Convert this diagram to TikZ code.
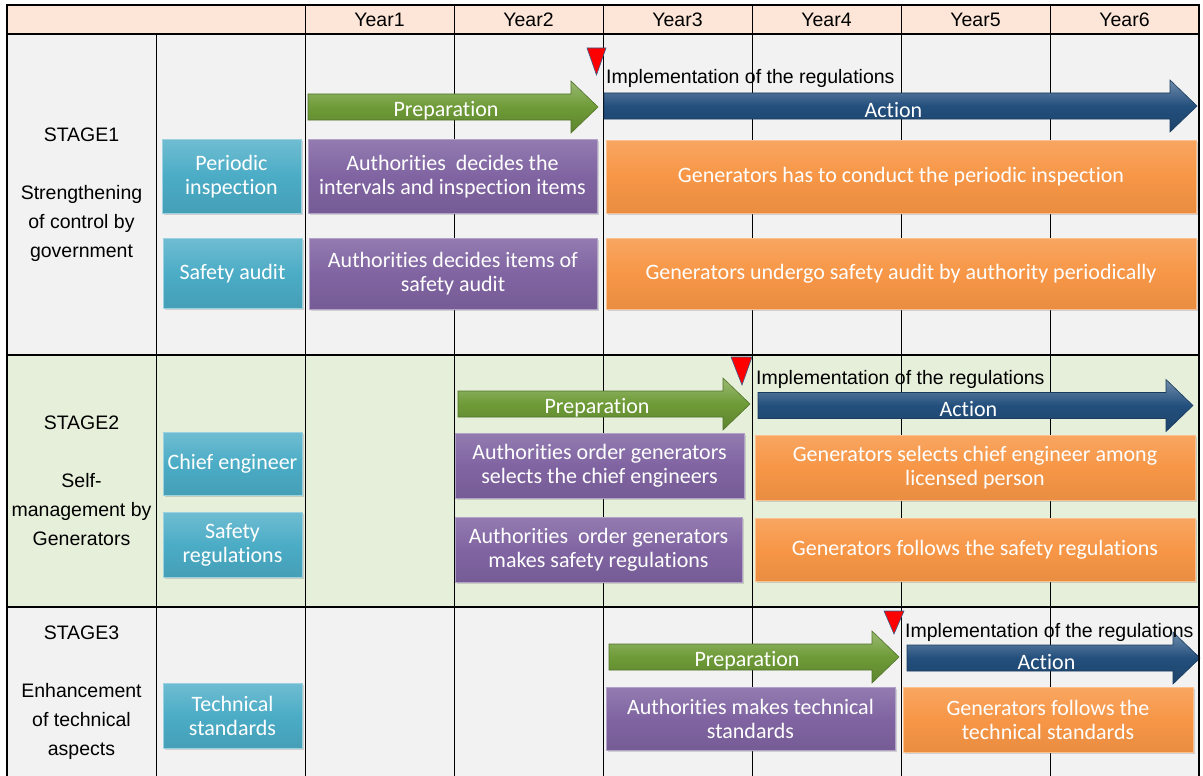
\documentclass[tikz,border=0pt]{standalone}
\usepackage{fontspec}
\setmainfont{Liberation Sans}
\newfontfamily\calfont[Ligatures=NoCommon]{Carlito}
\usetikzlibrary{shadows}

\definecolor{headbg}{HTML}{FDE6D8}
\definecolor{graybg}{HTML}{F2F2F2}
\definecolor{greenbg}{HTML}{E6EFDA}
\definecolor{cyanC}{HTML}{4BACC6}
\definecolor{purpleC}{HTML}{8064A2}
\definecolor{orangeC}{HTML}{F79646}
\definecolor{greenC}{HTML}{6E9B37}
\definecolor{blueC}{HTML}{234F7D}
\definecolor{markC}{HTML}{385D8A}

\tikzset{
  gridline/.style={black, line width=1pt},
  headtext/.style={font=\fontsize{19.5}{23}\selectfont, inner sep=0pt},
  stagetext/.style={font=\fontsize{19.5}{29}\selectfont, align=center, inner sep=0pt},
  noticetext/.style={font=\fontsize{19.5}{23}\selectfont, inner sep=0pt, anchor=west},
  bevelbox/.style={rectangle, inner sep=0pt, outer sep=0pt, align=center, text=white,
    line width=1pt, font=\calfont\fontsize{22}{24}\selectfont,
    drop shadow={shadow xshift=1.5pt, shadow yshift=-1.5pt, opacity=0.3}},
  itembox/.style={bevelbox, top color=cyanC!80!white, bottom color=cyanC!92!black,
    middle color=cyanC, draw=cyanC!55!white},
  authbox/.style={bevelbox, top color=purpleC!85!white, bottom color=purpleC!92!black,
    middle color=purpleC, draw=purpleC!60!white},
  genbox/.style={bevelbox, top color=orangeC!85!white, bottom color=orangeC!94!black,
    middle color=orangeC, draw=orangeC!60!white},
  prepfill/.style={top color=greenC!70!white, bottom color=greenC!85!black, middle color=greenC,
    draw=greenC!75!black, line width=0.6pt},
  actfill/.style={top color=blueC!65!white, bottom color=blueC!85!black, middle color=blueC,
    draw=blueC!75!black, line width=0.6pt},
  arrowtext/.style={text=white, inner sep=0pt, font=\calfont\fontsize{22}{24}\selectfont},
  marker/.style={fill=red, draw=markC, line width=0.6pt}
}

% #1 style, #2 start x, #3 tip x, #4 centre y, #5 name, #6 label
\newcommand{\phasearrow}[6]{%
  \path[#1] (#2,#4-13) -- (#3-27,#4-13) -- (#3-27,#4-26) -- (#3,#4)
    -- (#3-27,#4+26) -- (#3-27,#4+13) -- (#2,#4+13) -- cycle;
  \node[arrowtext] (#5) at ({(#2+#3)/2-7},#4+4) {#6};
}

\begin{document}
\begin{tikzpicture}[x=1pt, y=-1pt]
  \useasboundingbox (0,0) rectangle (1203,776);

  % Fondos de las filas
  \fill[headbg] (7,5) rectangle (1199,34);
  \fill[graybg] (7,34) rectangle (1199,355);
  \fill[greenbg] (7,355) rectangle (1199,607);
  \fill[graybg] (7,607) rectangle (1199,790);

  % Rejilla de columnas y filas
  \draw[gridline] (156,34) -- (156,790);
  \foreach \i in {0,...,5}{
    \draw[gridline] (305+149*\i,5) -- (305+149*\i,790);
  }
  \draw[black, line width=2pt] (7,34) -- (1199,34);
  \draw[gridline, line width=1.4pt] (7,355) -- (1199,355);
  \draw[gridline, line width=1.4pt] (7,607) -- (1199,607);

  % Cabecera de años
  \foreach \i in {1,...,6}{
    \node[headtext] (year\i) at ({305+149*(\i-0.5)},19.5) {Year\i};
  }

  % Etiquetas de las etapas
  \node[stagetext] (stage1) at (81.5,194.5)
    {STAGE1\\[29pt]Strengthening\\of control by\\government};
  \node[stagetext] (stage2) at (81.5,481)
    {STAGE2\\[29pt]Self-\\management by\\Generators};
  \node[stagetext] (stage3) at (81.5,693)
    {STAGE3\\[29pt]Enhancement\\of technical\\aspects};

  % STAGE1
  \node[itembox, minimum width=139, minimum height=74] (periodic) at (231.5,176.5) {Periodic\\inspection};
  \node[itembox, minimum width=139, minimum height=70] (audit) at (232.5,273.5) {Safety audit};
  \node[authbox, minimum width=289, minimum height=74] (auth1) at (452.5,176.5)
    {Authorities\ \ decides the\\intervals and inspection items};
  \node[authbox, minimum width=288, minimum height=71] (auth2) at (453,274)
    {Authorities decides items of\\safety audit};
  \node[genbox, minimum width=590, minimum height=73] (gen1) at (901,176.5)
    {Generators has to conduct the periodic inspection};
  \node[genbox, minimum width=590, minimum height=71] (gen2) at (901,274)
    {Generators undergo safety audit by authority periodically};
  \phasearrow{prepfill}{308}{598}{107}{prep1}{Preparation}
  \phasearrow{actfill}{604}{1197}{106}{act1}{Action}
  \path[marker] (587,48) -- (606,48) -- (596.5,75) -- cycle;
  \node[noticetext] (impl1) at (606,78) {Implementation of the regulations};

  % STAGE2
  \node[itembox, minimum width=139, minimum height=63] (chief) at (232.5,464) {Chief engineer};
  \node[itembox, minimum width=139, minimum height=65] (rules) at (232.5,545) {Safety\\regulations};
  \node[authbox, minimum width=289, minimum height=65] (auth3) at (599.5,466)
    {Authorities order generators\\selects the chief engineers};
  \node[authbox, minimum width=287, minimum height=65] (auth4) at (598.5,550)
    {Authorities\ \ order generators\\makes safety regulations};
  \node[genbox, minimum width=440, minimum height=65] (gen3) at (975,467.5)
    {Generators selects chief engineer among\\licensed person};
  \node[genbox, minimum width=440, minimum height=63] (gen4) at (975,550)
    {Generators follows the safety regulations};
  \phasearrow{prepfill}{458}{750}{404}{prep2}{Preparation}
  \phasearrow{actfill}{758}{1193}{405.5}{act2}{Action}
  \path[marker] (731,357) -- (752,357) -- (742,385) -- cycle;
  \node[noticetext] (impl2) at (756,379) {Implementation of the regulations};

  % STAGE3
  \node[itembox, minimum width=139, minimum height=65] (techstd) at (232.5,716) {Technical\\standards};
  \node[authbox, minimum width=289, minimum height=63] (auth5) at (750.5,719)
    {Authorities makes technical\\standards};
  \node[genbox, minimum width=290, minimum height=65] (gen5) at (1048,720)
    {Generators follows the\\technical standards};
  \phasearrow{prepfill}{609}{899}{657}{prep3}{Preparation}
  \phasearrow{actfill}{907}{1200}{658}{act3}{Action}
  \path[marker] (884,611) -- (904,611) -- (894,634) -- cycle;
  \node[noticetext] (impl3) at (905,632) {Implementation of the regulations};

  % Borde exterior
  \draw[black, line width=2.5pt] (7,5) rectangle (1199,790);

\end{tikzpicture}
\end{document}
